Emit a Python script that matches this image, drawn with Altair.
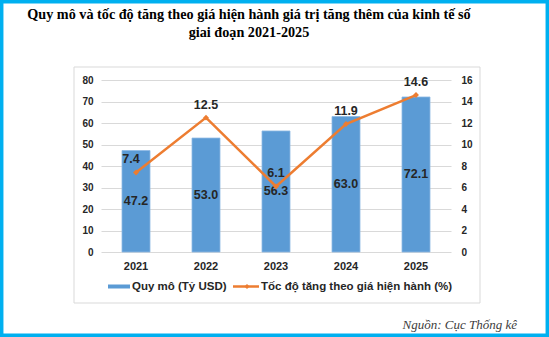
import altair as alt
import pandas as pd

years = ["2021", "2022", "2023", "2024", "2025"]
scale_values = [47.2, 53.0, 56.3, 63.0, 72.1]
growth_values = [7.4, 12.5, 6.1, 11.9, 14.6]

title_line1 = "Quy mô và tốc độ tăng theo giá hiện hành giá trị tăng thêm của kinh tế số"
title_line2 = "giai đoạn 2021-2025"
legend_bar = "Quy mô (Tỷ USD)"
legend_line = "Tốc độ tăng theo giá hiện hành (%)"
source_text = "Nguồn: Cục Thống kê"

BLUE = "#5B9BD5"
ORANGE = "#ED7D31"
TXT = "#262626"
SANS = "Liberation Sans"
SERIF = "Liberation Serif"

df = pd.DataFrame({"year": years, "scale": scale_values, "growth": growth_values})
one = pd.DataFrame({"a": [0]})

W, H = 350, 172

x_enc = alt.X("year:N", sort=years, title=None,
              scale=alt.Scale(paddingInner=0.6, paddingOuter=0.3),
              axis=alt.Axis(labelFontWeight="bold", labelFontSize=11, labelFont=SANS,
                            labelColor=TXT, domain=False, ticks=False, labelPadding=8,
                            labelAngle=0))

left_scale = alt.Scale(domain=[0, 80])
right_scale = alt.Scale(domain=[0, 16])

left_axis = alt.Axis(values=list(range(0, 81, 10)), grid=True, gridColor="#d9d9d9",
                     domain=False, ticks=False, labelFontWeight="bold", labelOverlap=False,
                     labelFontSize=10, labelFont=SANS, labelColor=TXT, labelPadding=8)
right_axis = alt.Axis(orient="right", values=list(range(0, 17, 2)), grid=False,
                      domain=False, ticks=False, labelFontWeight="bold", labelOverlap=False,
                      labelFontSize=10, labelFont=SANS, labelColor=TXT, labelPadding=10)

bars = alt.Chart(df).mark_bar(color=BLUE, stroke="#8DB9E3", strokeWidth=0.8).encode(
    x=x_enc,
    y=alt.Y("scale:Q", scale=left_scale, title=None, axis=left_axis),
)
bar_labels = alt.Chart(df).transform_calculate(mid="datum.scale/2").mark_text(
    font=SANS, fontSize=12.5, fontWeight="bold", color=TXT, baseline="middle"
).encode(
    x=alt.X("year:N", sort=years),
    y=alt.Y("mid:Q", scale=left_scale, title=None, axis=left_axis),
    text=alt.Text("scale:Q", format=".1f"),
)
left = alt.layer(bars, bar_labels)

line = alt.Chart(df).mark_line(color=ORANGE, strokeWidth=2.5).encode(
    x=alt.X("year:N", sort=years),
    y=alt.Y("growth:Q", scale=right_scale, title=None, axis=right_axis),
)
points = alt.Chart(df).mark_point(shape="diamond", filled=True, color=ORANGE, size=35, opacity=1).encode(
    x=alt.X("year:N", sort=years),
    y=alt.Y("growth:Q", scale=right_scale, title=None, axis=right_axis),
)
line_labels_first = alt.Chart(df).transform_filter(alt.datum.year == years[0]).mark_text(
    font=SANS, fontSize=12.5, fontWeight="bold", color=TXT, dy=-13, dx=-5
).encode(
    x=alt.X("year:N", sort=years),
    y=alt.Y("growth:Q", scale=right_scale, title=None, axis=right_axis),
    text=alt.Text("growth:Q", format=".1f"),
)
line_labels_rest = alt.Chart(df).transform_filter(alt.datum.year != years[0]).mark_text(
    font=SANS, fontSize=12.5, fontWeight="bold", color=TXT, dy=-13
).encode(
    x=alt.X("year:N", sort=years),
    y=alt.Y("growth:Q", scale=right_scale, title=None, axis=right_axis),
    text=alt.Text("growth:Q", format=".1f"),
)
right = alt.layer(line, points, line_labels_first, line_labels_rest)

# Frames
outer = alt.Chart(one).mark_rect(fill=None, stroke="#00B0F0", strokeWidth=3.5).encode(
    x=alt.value(-99.3), x2=alt.value(446.3), y=alt.value(-78.3), y2=alt.value(255.3))
inner = alt.Chart(one).mark_rect(fill=None, stroke="#d9d9d9", strokeWidth=1).encode(
    x=alt.value(-27), x2=alt.value(379), y=alt.value(-13), y2=alt.value(223))

# Title
t1 = alt.Chart(one).mark_text(text=title_line1, font=SERIF, fontSize=14.2, fontWeight="bold",
                              color="black", align="center", baseline="middle").encode(
    x=alt.value(148), y=alt.value(-65))
t2 = alt.Chart(one).mark_text(text=title_line2, font=SERIF, fontSize=14.2, fontWeight="bold",
                              color="black", align="center", baseline="middle").encode(
    x=alt.value(148), y=alt.value(-47))

# Legend
lg_rect = alt.Chart(one).mark_rect(color=BLUE).encode(
    x=alt.value(7), x2=alt.value(29), y=alt.value(204.5), y2=alt.value(208.5))
lg_t1 = alt.Chart(one).mark_text(text=legend_bar, font=SANS, fontSize=11.5, fontWeight="bold",
                                 color=TXT, align="left", baseline="middle").encode(
    x=alt.value(31), y=alt.value(207))
lg_rule = alt.Chart(one).mark_rule(color=ORANGE, strokeWidth=2.5).encode(
    x=alt.value(132), x2=alt.value(158), y=alt.value(206.5))
lg_pt = alt.Chart(one).mark_point(shape="diamond", filled=True, color=ORANGE, size=25, opacity=1).encode(
    x=alt.value(146), y=alt.value(206.5))
lg_t2 = alt.Chart(one).mark_text(text=legend_line, font=SANS, fontSize=11.5, fontWeight="bold",
                                 color=TXT, align="left", baseline="middle").encode(
    x=alt.value(160), y=alt.value(207))

src = alt.Chart(one).mark_text(text=source_text, font=SERIF, fontSize=13, fontStyle="italic",
                               color="#404040", align="right", baseline="middle").encode(
    x=alt.value(416), y=alt.value(245))

deco = alt.layer(outer, inner, t1, t2, lg_rect, lg_t1, lg_rule, lg_pt, lg_t2, src)

chart = alt.layer(left, right, deco).resolve_scale(y="independent").properties(
    width=W, height=H,
    autosize=alt.AutoSizeParams(type="none"),
    padding={"left": 101, "top": 80, "right": 98, "bottom": 85},
    background="white",
).configure_view(stroke=None)

chart.save("out.html", embed_options={"renderer": "svg", "actions": False})
